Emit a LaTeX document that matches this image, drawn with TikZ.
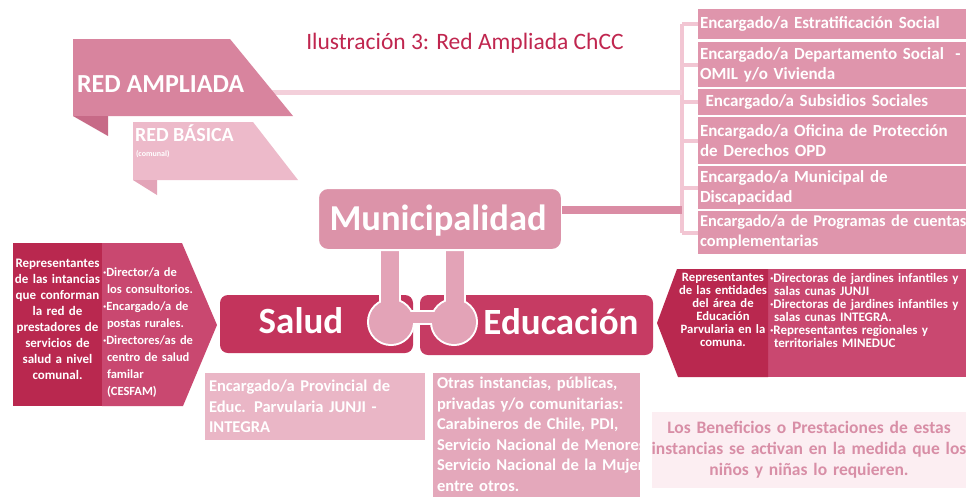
\documentclass[tikz,border=0pt]{standalone}
\usepackage{fontspec}
\setmainfont{Carlito}
\definecolor{titlec}{HTML}{C0264F}
\definecolor{ampl}{HTML}{D8849E}
\definecolor{ampltail}{HTML}{C76A87}
\definecolor{basic}{HTML}{EDBACA}
\definecolor{basictail}{HTML}{E3A4B8}
\definecolor{amline}{HTML}{F3CFDA}
\definecolor{muni}{HTML}{DC93A9}
\definecolor{munline}{HTML}{DA8CA4}
\definecolor{brkc}{HTML}{F2C6D3}
\definecolor{rboxc}{HTML}{DF95AC}
\definecolor{salLc}{HTML}{B9284F}
\definecolor{salRc}{HTML}{C94870}
\definecolor{salc}{HTML}{C3345C}
\definecolor{educ}{HTML}{C63B63}
\definecolor{connc}{HTML}{E3A3B7}
\definecolor{provc}{HTML}{EAB6C6}
\definecolor{otrasc}{HTML}{E4A8BB}
\definecolor{benefbg}{HTML}{FCEEF2}
\definecolor{beneftx}{HTML}{D88EA6}
\newcommand\myfs[2]{\fontsize{#1}{#2}\selectfont}
\begin{document}
\begin{tikzpicture}[x=1pt,y=-1pt,
  every node/.style={inner sep=0pt, outer sep=0pt},
  rbox/.style={fill=rboxc, anchor=north west, minimum width=268pt, text width=290pt,
    align=left, font=\bfseries\myfs{17}{20}, text=white, inner xsep=2pt},
  brk/.style={draw=brkc, line width=4pt},
  wtxt/.style={text=white, font=\bfseries\myfs{13}{16}},
  etxt/.style={text=white, font=\bfseries\myfs{12.7}{13}},
  conn/.style={fill=connc},
  bigl/.style={anchor=base, text=white, font=\bfseries\myfs{37}{40}}
]
\useasboundingbox (0,0) rectangle (966,496);
\fill[white] (0,0) rectangle (966,496);

% title
\node[anchor=base, font=\myfs{23.5}{28}, text=titlec] (title) at (465,49) {Ilustración 3: Red Ampliada ChCC};

% right boxes
\node[rbox, minimum height=30pt] (r1) at (698,9) {Encargado/a Estratificación Social};
\node[rbox, minimum height=45pt] (r2) at (698,42) {Encargado/a Departamento Social~~-\\OMIL y/o Vivienda};
\node[rbox, minimum height=26pt] (r3) at (698,89) {~Encargado/a Subsidios Sociales};
\node[rbox, minimum height=47pt] (r4) at (698,117) {Encargado/a Oficina de Protección\\de Derechos OPD};
\node[rbox, minimum height=43pt] (r5) at (698,166) {Encargado/a Municipal de\\Discapacidad};
\node[rbox, minimum height=43pt, font=\bfseries\myfs{16.4}{20}] (r6) at (698,211) {Encargado/a de Programas de cuentas\\complementarias};

% bracket
\coordinate (brk) at (682,30);
\draw[brk] (brk |- r1.west) -- (brk |- r6.west);
\foreach \b in {r1,r2,r3,r4,r5,r6} \draw[brk] (brk |- \b.west) -- (\b.west);

% RED AMPLIADA line + ribbon
\coordinate (amplend) at (270,92);
\draw[draw=amline, line width=5pt] (amplend) -- (amplend -| brk);
\fill[ampl] (73,39) -- (230,39) -- (293,116) -- (73,116) -- cycle;
\fill[ampltail] (73,116) -- (108,116) -- (108,136) -- cycle;
\node[anchor=base west, font=\bfseries\myfs{26}{30}, text=white] (redampl) at (77,92) {RED AMPLIADA};

% RED BASICA ribbon
\fill[basic] (133,122) -- (253,122) -- (298,180) -- (133,180) -- cycle;
\fill[basictail] (133,180) -- (157,180) -- (157,195) -- cycle;
\node[anchor=base west, font=\bfseries\myfs{20}{24}, text=white] (redbas) at (135,141) {RED BÁSICA};
\node[anchor=base west, font=\bfseries\myfs{8}{10}, text=white] (comunal) at (136,156) {(comunal)};

% Salud / Educacion boxes
\node[fill=salc, rounded corners=8pt, minimum width=193pt, minimum height=58pt, anchor=north west] (salud) at (220,295) {};
\node[fill=educ, rounded corners=8pt, minimum width=233pt, minimum height=60pt, anchor=north west] (edu) at (420,295) {};
\node[bigl] (saludt) at (301,333) {Salud};
\node[bigl] (edut) at (561,334) {Educación};

% connector between Municipalidad and boxes
\foreach \w in {4pt} {
  \path[draw=white, line width=\w] (381,245) rectangle (399,322);
  \path[draw=white, line width=\w] (446,245) rectangle (464,322);
  \path[draw=white, line width=\w] (392,312) rectangle (453,323);
  \path[draw=white, line width=\w] (391,322) circle[radius=22];
  \path[draw=white, line width=\w] (454,322) circle[radius=22];
}
\fill[conn] (381,245) rectangle (399,322);
\fill[conn] (446,245) rectangle (464,322);
\fill[conn] (392,312) rectangle (453,323);
\fill[conn] (391,322) circle[radius=22];
\fill[conn] (454,322) circle[radius=22];

% Municipalidad
\node[draw=white, line width=2pt, fill=muni, rounded corners=10pt, minimum width=244pt, minimum height=62pt] (muni) at (440,219) {};
\coordinate (mline) at ([yshift=9pt]muni.east);
\draw[draw=munline, line width=8pt] (mline) -- (mline -| brk);
\node[anchor=base, font=\bfseries\myfs{36.5}{40}, text=white] (munit) at (438,230) {Municipalidad};

% Salud chevron
\fill[salRc] (102,243) -- (182,243) -- (217,325) -- (183,406) -- (102,406) -- cycle;
\fill[salLc] (13,243) rectangle (102,406);
\node[wtxt, anchor=north, text width=92pt, align=center] (salL) at (57.5,259) {Representantes\\de las intancias\\que conforman\\la red de\\prestadores de\\servicios de\\salud a nivel\\comunal.};
\node[wtxt, anchor=north west, text width=130pt, align=left, font=\bfseries\myfs{12.5}{17}] (salR) at (103,268) {·Director/a de\\\hspace*{4pt}los consultorios.\\·Encargado/a de\\\hspace*{4pt}postas rurales.\\·Directores/as de\\\hspace*{4pt}centro de salud\\\hspace*{4pt}familar\\\hspace*{4pt}(CESFAM)};

% Educacion chevron
\fill[salRc] (768,269) -- (966,269) -- (966,377) -- (768,377) -- cycle;
\fill[salLc] (677,269) -- (768,269) -- (768,377) -- (678,377) -- (657,323) -- cycle;
\node[etxt, anchor=north, text width=92pt, align=center] (eduL) at (723,273) {Representantes\\de las entidades\\del área de\\Educación\\Parvularia en la\\comuna.};
\node[etxt, anchor=north west, text width=200pt, align=left, font=\bfseries\myfs{13}{13}] (eduR) at (770,273) {·Directoras de jardines infantiles y\\\hspace*{4pt}salas cunas JUNJI\\·Directoras de jardines infantiles y\\\hspace*{4pt}salas cunas INTEGRA.\\·Representantes regionales y\\\hspace*{4pt}territoriales MINEDUC};

% bottom boxes
\node[fill=provc, anchor=north west, minimum width=219pt, minimum height=67pt, text width=212pt, align=left, inner xsep=4pt, font=\bfseries\myfs{16.5}{20.5}, text=white] (prov) at (205,373) {Encargado/a Provincial de\\Educ. Parvularia JUNJI -\\INTEGRA};
\fill[otrasc] (433,373) rectangle (640,500);
\node[anchor=north west, text width=230pt, align=left, font=\bfseries\myfs{16.5}{20.6}, text=white] (otras) at (437,377) {Otras instancias, públicas,\\privadas y/o comunitarias:\\Carabineros de Chile, PDI,\\Servicio Nacional de Menores,\\Servicio Nacional de la Mujer\\entre otros.};
\node[fill=benefbg, anchor=north west, minimum width=314pt, minimum height=76pt] (benefbox) at (652,412) {};
\node[anchor=center, text width=330pt, align=center, font=\bfseries\myfs{17.5}{21}, text=beneftx] (benef) at (809,450) {Los Beneficios o Prestaciones de estas\\instancias se activan en la medida que los\\niños y niñas lo requieren.};
\end{tikzpicture}
\end{document}
